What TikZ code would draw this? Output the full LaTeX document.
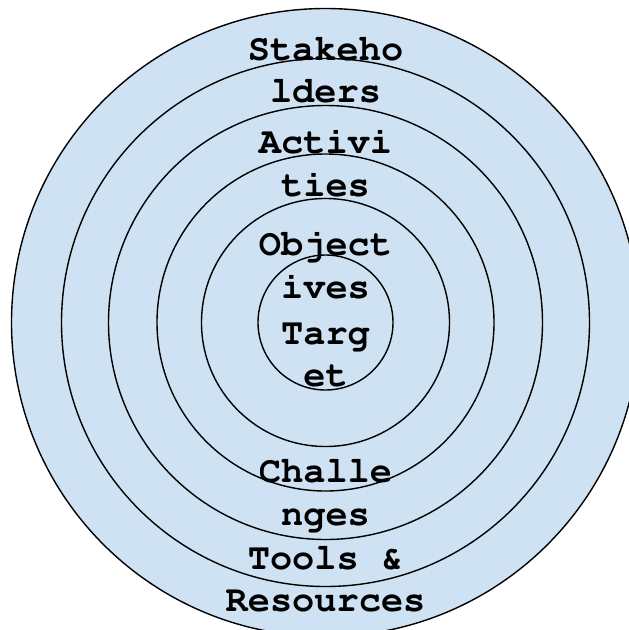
\documentclass[tikz,border=0pt]{standalone}
\usepackage[T1]{fontenc}
\usepackage{courier}
\definecolor{ringblue}{HTML}{CFE2F3}
\begin{document}
\begin{tikzpicture}[x=1pt,y=-1pt,
  ring/.style={draw=black,line width=1.4pt,fill=ringblue},
  ringlabel/.style={anchor=base,inner sep=0pt,
    font=\ttfamily\bfseries\fontsize{37}{42}\selectfont}]
  \useasboundingbox (0,0) rectangle (629,630);
  \clip (0,0) rectangle (629,630);
  \coordinate (c) at (325.5,322.5);
  % concentric rings, outermost first
  \foreach \r in {314,264,217,168.5,124,67.5}
    \draw[ring] (c) circle[radius=\r];
  % ring labels, one node per printed line
  \node[ringlabel] (stk1) at (325.5,60.7) {Stakeho};
  \node[ringlabel] (stk2) at (325.5,102.7) {lders};
  \node[ringlabel] (act1) at (325.5,153.5) {Activi};
  \node[ringlabel] (act2) at (325.5,196.7) {ties};
  \node[ringlabel] (obj1) at (325.5,255) {Object};
  \node[ringlabel] (obj2) at (325.5,298.5) {ives};
  \node[ringlabel] (tgt1) at (325.5,344) {Targ};
  \node[ringlabel] (tgt2) at (325.5,386.7) {et};
  \node[ringlabel] (chl1) at (325.5,482.5) {Challe};
  \node[ringlabel] (chl2) at (325.5,525) {nges};
  \node[ringlabel] (tls1) at (325.5,569) {Tools \&};
  \node[ringlabel] (tls2) at (325.5,611.7) {Resources};
\end{tikzpicture}
\end{document}
